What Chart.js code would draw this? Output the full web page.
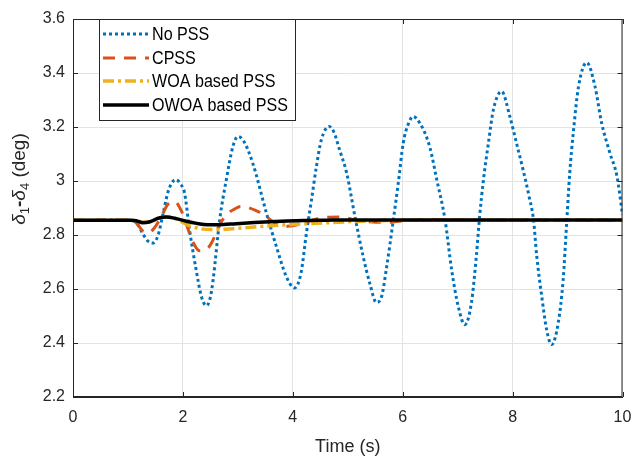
<!DOCTYPE html>
<html>
<head>
<meta charset="utf-8">
<script src="https://cdn.jsdelivr.net/npm/chart.js@4.4.1/dist/chart.umd.min.js"></script>
<style>
  html, body { margin: 0; padding: 0; background: #fff; }
  canvas { display: block; }
</style>
</head>
<body>
<canvas id="chart" width="632" height="465"></canvas>
<script>
// rotor angle difference
const seriesNames = ['No PSS', 'CPSS', 'WOA based PSS', 'OWOA based PSS'];
const xTicks = [0, 2, 4, 6, 8, 10];
const yTicks = [2.2, 2.4, 2.6, 2.8, 3, 3.2, 3.4, 3.6];

const noPssT = [0, 1.0, 1.1, 1.18, 1.27, 1.36, 1.45, 1.55, 1.64, 1.73, 1.82, 1.88, 1.95, 2.03, 2.12, 2.24, 2.34, 2.43, 2.5, 2.55,
  2.67, 2.79, 2.91, 3.0, 3.1, 3.27, 3.52, 3.7, 3.88, 4.03, 4.15, 4.25, 4.34, 4.43, 4.52, 4.66, 4.75, 4.85, 4.98, 5.13,
  5.28, 5.4, 5.52, 5.62, 5.7, 5.83, 5.92, 6.01, 6.1, 6.19, 6.31, 6.49, 6.62, 6.77, 6.89, 7.01, 7.13, 7.25, 7.34, 7.4,
  7.47, 7.56, 7.65, 7.8, 7.95, 8.07, 8.19, 8.3, 8.38, 8.44, 8.53, 8.62, 8.71, 8.83, 8.92, 8.98, 9.04, 9.11, 9.2, 9.35,
  9.5, 9.62, 9.77, 9.9, 10];
const noPssV = [2.855, 2.855, 2.853, 2.838, 2.805, 2.778, 2.77, 2.8, 2.88, 2.96, 2.999, 3.005, 2.99, 2.956, 2.82, 2.672, 2.57, 2.538, 2.57, 2.634,
  2.857, 3.005, 3.128, 3.165, 3.15, 3.067, 2.881, 2.758, 2.647, 2.604, 2.66, 2.81, 2.93, 3.054, 3.153, 3.202, 3.18, 3.116, 3.03, 2.869,
  2.721, 2.622, 2.55, 2.575, 2.671, 2.857, 2.993, 3.141, 3.21, 3.239, 3.215, 3.128, 3.005, 2.857, 2.672, 2.536, 2.468, 2.548, 2.721, 2.869,
  3.005, 3.141, 3.264, 3.332, 3.239, 3.141, 3.042, 2.943, 2.857, 2.721, 2.573, 2.449, 2.394, 2.474, 2.634, 2.832, 3.03, 3.19, 3.35, 3.439,
  3.35, 3.215, 3.104, 3.017, 2.875];

const cpssT = [0, 1.0, 1.1, 1.18, 1.27, 1.37, 1.48, 1.61, 1.72, 1.85, 1.97, 2.08, 2.18, 2.3, 2.43, 2.52, 2.67, 2.82, 2.94, 3.05,
  3.18, 3.31, 3.49, 3.62, 3.75, 3.9, 4.05, 4.25, 4.45, 4.65, 4.85, 5.0, 5.2, 5.45, 5.7, 6.0, 6.4, 7, 8, 9, 10];
const cpssV = [2.855, 2.855, 2.852, 2.838, 2.815, 2.808, 2.826, 2.869, 2.912, 2.924, 2.89, 2.83, 2.775, 2.742, 2.747, 2.77, 2.839, 2.88, 2.896, 2.906,
  2.902, 2.892, 2.874, 2.852, 2.838, 2.832, 2.836, 2.848, 2.86, 2.866, 2.867, 2.862, 2.853, 2.848, 2.847, 2.852, 2.857, 2.856, 2.855, 2.855, 2.855];

const woaT = [0, 1.05, 1.15, 1.25, 1.35, 1.5, 1.65, 1.8, 1.95, 2.1, 2.3, 2.5, 2.7, 2.9, 3.2, 3.5, 3.9, 4.3, 4.7, 5.1, 5.6, 6.2, 7, 8, 10];
const woaV = [2.855, 2.855, 2.852, 2.848, 2.847, 2.855, 2.867, 2.866, 2.852, 2.836, 2.824, 2.82, 2.82, 2.823, 2.828, 2.833, 2.838, 2.842, 2.846, 2.85, 2.853, 2.855, 2.855, 2.855, 2.855];

const owoaT = [0, 1.05, 1.15, 1.27, 1.4, 1.55, 1.7, 1.85, 2.06, 2.25, 2.45, 2.65, 2.97, 3.3, 3.58, 3.9, 4.19, 4.6, 5.2, 6, 8, 10];
const owoaV = [2.855, 2.855, 2.853, 2.845, 2.849, 2.862, 2.867, 2.862, 2.851, 2.843, 2.838, 2.838, 2.842, 2.846, 2.849, 2.852, 2.854, 2.855, 2.856, 2.856, 2.856, 2.856];

const FONT = "'Liberation Sans', Arial, Helvetica, sans-serif";
const AXIS = '#262626';

function pts(ts, vs) {
  return ts.map((t, i) => ({ x: t, y: vs[i] }));
}

// box, inward ticks, legend and y label drawn the matlab way
const frame = {
  id: 'frame',
  afterDatasetsDraw(chart) {
    const { ctx, chartArea: a, scales } = chart;
    ctx.save();
    ctx.strokeStyle = AXIS;
    ctx.lineWidth = 1;
    ctx.strokeRect(a.left + 0.5, a.top + 0.5, a.right - a.left - 1, a.bottom - a.top - 1);
    ctx.beginPath();
    xTicks.forEach(v => {
      const x = Math.round(scales.x.getPixelForValue(v)) + 0.5;
      ctx.moveTo(x, a.bottom); ctx.lineTo(x, a.bottom - 5);
      ctx.moveTo(x, a.top); ctx.lineTo(x, a.top + 5);
    });
    yTicks.forEach(v => {
      const y = Math.round(scales.y.getPixelForValue(v)) + 0.5;
      ctx.moveTo(a.left, y); ctx.lineTo(a.left + 5, y);
      ctx.moveTo(a.right, y); ctx.lineTo(a.right - 5, y);
    });
    ctx.stroke();

    // legend
    const bx = 99.5, by = 19.5, bw = 196, bh = 101;
    ctx.fillStyle = '#fff';
    ctx.fillRect(bx, by, bw, bh);
    ctx.strokeStyle = AXIS;
    ctx.strokeRect(bx, by, bw, bh);
    const rows = [34, 58, 81, 105];
    chart.data.datasets.forEach((ds, i) => {
      const y = rows[i];
      ctx.save();
      ctx.strokeStyle = ds.borderColor;
      ctx.lineWidth = ds.borderWidth;
      ctx.setLineDash(ds.borderDash || []);
      ctx.beginPath();
      ctx.moveTo(103, y); ctx.lineTo(149, y);
      ctx.stroke();
      ctx.restore();
      ctx.save();
      ctx.fillStyle = '#000';
      ctx.font = '17.5px ' + FONT;
      ctx.textBaseline = 'middle';
      ctx.translate(152, y + 1);
      ctx.scale(0.92, 1);
      ctx.fillText(seriesNames[i], 0, 0);
      ctx.restore();
    });

    // y axis label with subscripts
    const parts = [
      { t: '\u03b4', f: 'italic 19px ' + FONT, dy: 0 },
      { t: '1', f: '13px ' + FONT, dy: 5 },
      { t: '-', f: 'bold 19px ' + FONT, dy: 0 },
      { t: '\u03b4', f: 'italic 19px ' + FONT, dy: 0 },
      { t: '4', f: '13px ' + FONT, dy: 5 },
      { t: ' (deg)', f: '19px ' + FONT, dy: 0 }
    ];
    let total = 0;
    parts.forEach(p => { ctx.font = p.f; p.w = ctx.measureText(p.t).width; total += p.w; });
    ctx.translate(20, 179);
    ctx.rotate(-Math.PI / 2);
    ctx.fillStyle = AXIS;
    ctx.textBaseline = 'middle';
    let px = -total / 2;
    parts.forEach(p => {
      ctx.font = p.f;
      ctx.fillText(p.t, px, p.dy);
      px += p.w;
    });
    ctx.restore();
  }
};

new Chart(document.getElementById('chart'), {
  type: 'line',
  data: {
    datasets: [
      { label: seriesNames[0], data: pts(noPssT, noPssV), borderColor: '#0072BD', borderWidth: 3, borderDash: [3, 3], order: 4 },
      { label: seriesNames[1], data: pts(cpssT, cpssV), borderColor: '#D95319', borderWidth: 3, borderDash: [12, 9], order: 3 },
      { label: seriesNames[2], data: pts(woaT, woaV), borderColor: '#EDB120', borderWidth: 3.5, borderDash: [11, 4, 3, 4], order: 2 },
      { label: seriesNames[3], data: pts(owoaT, owoaV), borderColor: '#000000', borderWidth: 3.5, order: 1 }
    ]
  },
  options: {
    responsive: false,
    animation: false,
    devicePixelRatio: 1,
    layout: { padding: { top: 19, right: 9.5, left: 0, bottom: 0 } },
    elements: {
      point: { radius: 0 },
      line: { cubicInterpolationMode: 'monotone', borderCapStyle: 'butt', fill: false }
    },
    plugins: { legend: { display: false }, tooltip: { enabled: false } },
    scales: {
      x: {
        type: 'linear', min: 0, max: 10,
        afterFit: s => { s.height = 68; s.paddingLeft = 0; s.paddingRight = 0; },
        afterBuildTicks: s => { s.ticks = xTicks.map(v => ({ value: v })); },
        ticks: { font: { family: FONT, size: 16 }, color: AXIS, padding: 11, maxRotation: 0 },
        grid: { color: '#e3e3e3', drawTicks: false },
        border: { color: AXIS },
        title: { display: true, text: 'Time (s)', font: { family: FONT, size: 18 }, color: AXIS, padding: { top: 0, bottom: 7 } }
      },
      y: {
        type: 'linear', min: 2.2, max: 3.6,
        afterFit: s => { s.width = 73; s.paddingTop = 0; s.paddingBottom = 0; },
        afterBuildTicks: s => { s.ticks = yTicks.map(v => ({ value: v })); },
        ticks: { font: { family: FONT, size: 16 }, color: AXIS, padding: 8, callback: v => String(Math.round(v * 10) / 10) },
        grid: { color: '#e3e3e3', drawTicks: false },
        border: { color: AXIS }
      }
    }
  },
  plugins: [frame]
});
</script>
</body>
</html>
